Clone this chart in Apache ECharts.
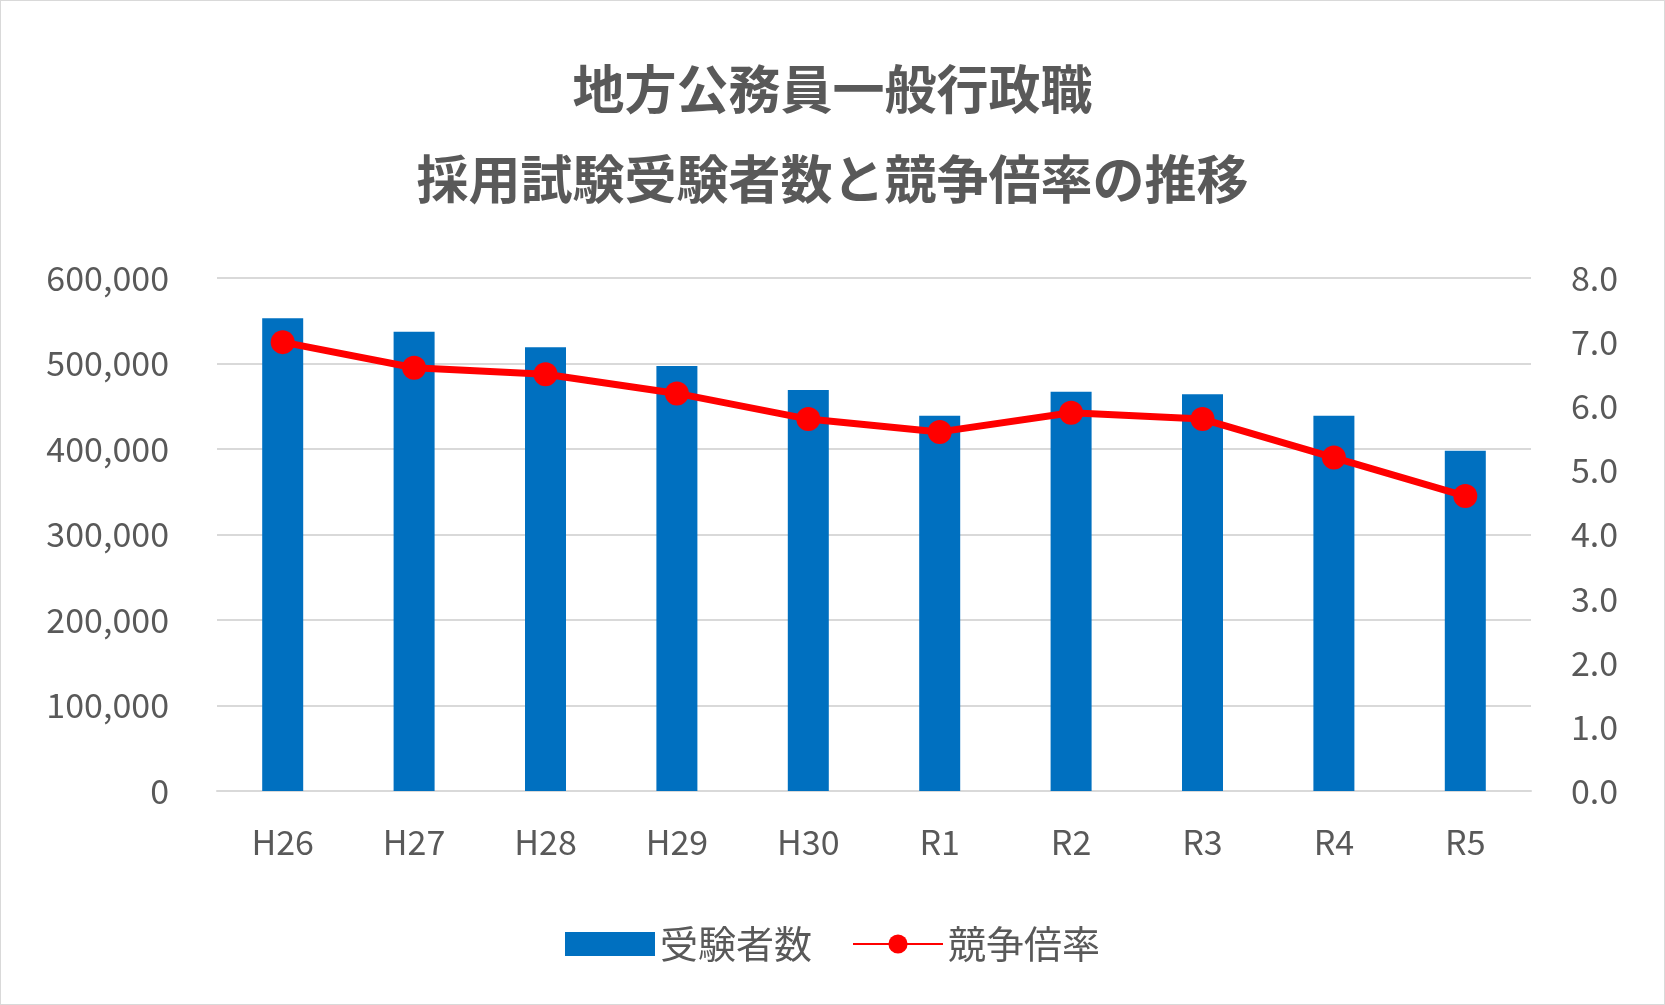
<!DOCTYPE html>
<html>
<head>
<meta charset="utf-8">
<script src="https://cdn.jsdelivr.net/npm/echarts@6/dist/echarts.min.js"></script>
<style>
html,body{margin:0;padding:0;background:#fff;}
#chart{width:1663px;height:1003px;border:1px solid #d9d9d9;}
</style>
</head>
<body>
<div id="chart"></div>
<script>
var categories = ["H26","H27","H28","H29","H30","R1","R2","R3","R4","R5"];
var examinees = [553000,537000,519000,497000,469000,439000,467000,464000,439000,398000];
var ratio = [7.0,6.6,6.5,6.2,5.8,5.6,5.9,5.8,5.2,4.6];

var font = '"Noto Sans CJK JP", "Noto Sans", sans-serif';
var grey = '#595959';
var chart = echarts.init(document.getElementById('chart'));
chart.setOption({
    animation: false,
    textStyle: {fontFamily: font},
    title: {
        text: '地方公務員一般行政職\n採用試験受験者数と競争倍率の推移',
        left: 'center', top: 38,
        textStyle: {fontSize: 52, fontWeight: 'bold', color: grey, lineHeight: 90, fontFamily: font}
    },
    legend: {
        bottom: 36, itemGap: 40, itemWidth: 90, itemHeight: 24,
        textStyle: {fontSize: 38, color: grey, fontFamily: font},
        data: [{name: '受験者数', icon: 'rect'}, {name: '競争倍率'}]
    },
    grid: {left: 216, right: 133, top: 277, bottom: 213},
    xAxis: {
        type: 'category', data: categories,
        axisTick: {show: false},
        axisLine: {lineStyle: {color: '#d9d9d9', width: 2}},
        axisLabel: {fontSize: 34, color: grey, margin: 34}
    },
    yAxis: [{
        type: 'value', min: 0, max: 600000, interval: 100000,
        splitLine: {lineStyle: {color: '#d9d9d9', width: 2}},
        axisLabel: {fontSize: 34, color: grey, margin: 48,
            formatter: function (v) { return v.toLocaleString('en-US'); }}
    }, {
        type: 'value', min: 0, max: 8, interval: 1,
        splitLine: {show: false},
        axisLabel: {fontSize: 34, color: grey, margin: 40,
            formatter: function (v) { return v.toFixed(1); }}
    }],
    series: [{
        name: '受験者数', type: 'bar', data: examinees, barWidth: 41,
        itemStyle: {color: '#0070c0'}
    }, {
        name: '競争倍率', type: 'line', yAxisIndex: 1, data: ratio,
        symbol: 'circle', symbolSize: 24,
        lineStyle: {color: '#ff0000', width: 7},
        itemStyle: {color: '#ff0000'}
    }]
});
</script>
</body>
</html>
